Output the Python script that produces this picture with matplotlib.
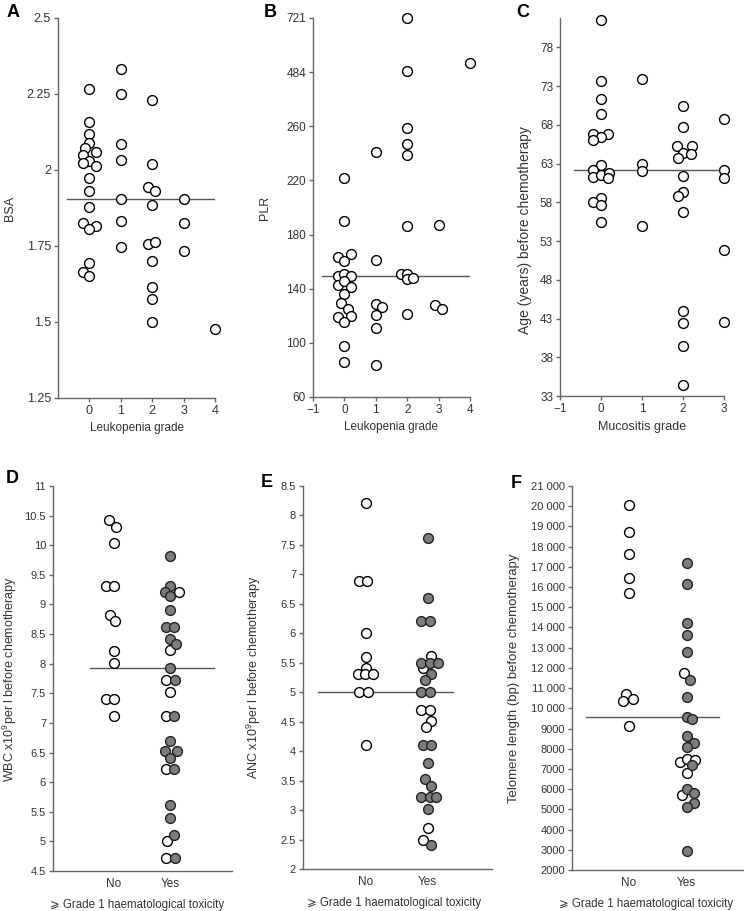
import numpy as np
import matplotlib
matplotlib.use("Agg")
import matplotlib.pyplot as plt
from matplotlib.ticker import FuncFormatter, FormatStrFormatter

plt.rcParams['font.family'] = ['Liberation Sans', 'DejaVu Sans']
plt.rcParams['mathtext.default'] = 'regular'

# ---- data ----
# A: BSA by leukopenia grade
a_grade = [0]*19 + [1]*7 + [2]*11 + [3]*3 + [4]
a_jit = [0, 0, 0, 0, -0.15, 0.2, -0.2, 0, -0.2, 0.2, 0, 0, 0, -0.2, 0.2, 0, 0, -0.2, 0,
         0, 0, 0, 0, 0, 0, 0,
         0, 0, -0.13, 0.1, 0, -0.13, 0.1, 0, 0, 0, 0,
         0, 0, 0,
         0]
a_bsa = [2.266, 2.157, 2.117, 2.09, 2.071, 2.06, 2.049, 2.031, 2.022, 2.013, 1.973, 1.93,
         1.879, 1.825, 1.817, 1.805, 1.695, 1.666, 1.652,
         2.333, 2.251, 2.086, 2.034, 1.905, 1.832, 1.748,
         2.231, 2.02, 1.943, 1.93, 1.885, 1.755, 1.762, 1.702, 1.616, 1.575, 1.499,
         1.905, 1.825, 1.735,
         1.478]
a_line = 1.905

# B: PLR by leukopenia grade
b_grade = [0]*19 + [1]*7 + [2]*11 + [3]*3 + [4]
b_jit = [0, 0, -0.2, 0.21, 0, -0.2, 0, 0.21, -0.2, 0, 0.21, 0, -0.1, 0.1, -0.2, 0.21, 0, 0, 0,
         0, 0, 0, 0.19, 0, 0, 0,
         0, 0, 0, 0, 0, 0, -0.21, 0, 0, 0.19, 0,
         0, -0.12, 0.1,
         0]
b_plr = [222, 190, 163.5, 166, 160.7, 149.4, 151, 149.4, 142.5, 145.4, 141.2, 136.3, 129.4,
         125.2, 119, 120.2, 115.3, 98, 86.2,
         241, 161, 128.9, 126.4, 120.7, 111, 84,
         721, 490, 259, 247, 239, 186, 151, 151, 147, 148, 121.5,
         187, 127.7, 124.7,
         522]
b_line = 149.4
b_ticks = [60, 100, 140, 180, 220, 260, 484, 721]

# C: age by mucositis grade
c_grade = [0]*18 + [1]*4 + [2]*15 + [3]*5
c_jit = [0, 0, 0, 0, -0.2, 0.18, 0, -0.2, 0, -0.2, -0.2, 0, 0.2, 0.18, 0, -0.2, 0, 0,
         0, 0, 0, 0,
         0, 0, -0.14, 0.21, 0, 0.2, -0.11, 0, 0, -0.11, 0, 0, 0, 0, 0,
         0, 0, 0, 0, 0]
c_age = [81.5, 73.7, 71.4, 69.4, 66.8, 66.8, 66.4, 66.0, 62.8, 62.2, 61.3, 61.5, 61.8, 61.1,
         58.6, 58.1, 57.7, 55.5,
         73.9, 63.0, 62.1, 54.9,
         70.4, 67.7, 65.3, 65.3, 64.4, 64.3, 63.7, 61.4, 59.3, 58.8, 56.7, 44.0, 42.4, 39.4, 34.4,
         68.7, 62.2, 61.1, 51.8, 42.6]
c_line = 62.2

# D: WBC by >= grade 1 haematological toxicity (1 = No, 2 = Yes)
d_group = [1]*12 + [2]*29
d_jit = [-0.09, 0.05, 0, -0.13, 0.01, -0.07, 0.03, 0, 0, -0.13, 0.01, 0,
         0, 0, -0.09, 0.15, 0, 0, -0.08, 0.07, 0, 0.1, -0.01, 0, -0.08, 0.08, 0,
         -0.08, 0.07, 0, -0.1, 0.12, 0, -0.08, 0.07, 0, 0, 0.07, -0.05, -0.08, 0.08]
d_wbc = [10.43, 10.31, 10.03, 9.31, 9.31, 8.83, 8.72, 8.21, 8.01, 7.41, 7.41, 7.11,
         9.81, 9.31, 9.21, 9.21, 9.14, 8.91, 8.62, 8.62, 8.42, 8.33, 8.23, 7.92, 7.72, 7.72, 7.52,
         7.11, 7.11, 6.70, 6.52, 6.52, 6.41, 6.22, 6.22, 5.61, 5.40, 5.10, 5.01, 4.72, 4.72]
d_filled = [0]*12 + [1, 1, 1, 0, 1, 1, 1, 1, 1, 1, 0, 1, 0, 1, 0,
                     0, 1, 1, 1, 1, 1, 0, 1, 1, 1, 1, 0, 0, 1]
d_line = 7.93

# E: ANC
e_group = [1]*12 + [2]*29
e_jit = [0, -0.12, 0.01, 0, 0, 0, -0.13, -0.02, 0.11, -0.12, 0.03, 0,
         0, 0, -0.11, 0.03, 0.05, -0.11, 0.03, 0.16, -0.08, 0.05, -0.05, -0.11, 0.03,
         -0.11, 0.03, 0.05, -0.03, -0.08, 0.05, 0, -0.05, 0.05, -0.11, 0.03, 0.14, 0, 0, -0.07, 0.05]
e_anc = [8.21, 6.89, 6.89, 6.01, 5.60, 5.41, 5.31, 5.31, 5.31, 5.0, 5.0, 4.11,
         7.61, 6.60, 6.21, 6.21, 5.62, 5.50, 5.50, 5.50, 5.41, 5.31, 5.21, 5.01, 5.01,
         4.70, 4.70, 4.51, 4.41, 4.11, 4.11, 3.80, 3.53, 3.41, 3.23, 3.23, 3.23, 3.01, 2.69, 2.50, 2.40]
e_filled = [0]*12 + [1, 1, 1, 1, 0, 1, 1, 1, 0, 1, 1, 1, 1,
                     0, 0, 0, 0, 1, 1, 1, 1, 1, 1, 1, 1, 1, 0, 0, 1]
e_line = 5.0

# F: telomere length
f_group = [1]*9 + [2]*24
f_jit = [0, 0, 0, 0, 0, -0.04, -0.1, 0.08, 0,
         0, 0, 0, 0, 0, -0.05, 0.06, 0, 0, 0.1, 0, 0.12, 0, -0.12, 0, 0.14, 0.1, 0,
         0, 0.12, -0.08, 0.12, 0, 0]
f_tl = [20050, 18715, 17660, 16425, 15685, 10710, 10380, 10480, 9143,
        17166, 16145, 14234, 13640, 12800, 11730, 11400, 10544, 9555, 9456, 8630, 8300, 8105,
        7350, 7480, 7450, 7200, 6787, 5997, 5832, 5717, 5338, 5140, 2916]
f_filled = [0]*9 + [1, 1, 1, 1, 1, 0, 1, 1, 1, 1, 1, 1, 1, 0, 0, 0, 1, 0, 1, 1, 0, 1, 1, 1]
f_line = 9588

group_labels = ['No', 'Yes']
tox_label = '\u2a7e Grade 1 haematological toxicity'

# ---- styling ----
W, H = 744, 911
INK = '#333333'
AXC = '#666666'
FILL = '#7d7d7d'
LINE = '#555555'


def make_ax(fig, left, right, top, bottom, tsize=8):
    ax = fig.add_axes([left / W, 1 - bottom / H, (right - left) / W, (bottom - top) / H])
    for s in ['top', 'right']:
        ax.spines[s].set_visible(False)
    for s in ['left', 'bottom']:
        ax.spines[s].set_color(AXC)
        ax.spines[s].set_linewidth(1.0)
    ax.tick_params(direction='out', length=3, width=1, color=AXC, labelcolor=INK,
                   labelsize=tsize, pad=2)
    return ax


def dots(ax, x, y, filled=None):
    x = np.asarray(x, float)
    y = np.asarray(y, float)
    if filled is None:
        filled = np.zeros(len(x), int)
    filled = np.asarray(filled, bool)
    ax.scatter(x[~filled], y[~filled], s=50, facecolor='white', edgecolor='black',
               linewidth=1.0, zorder=3, clip_on=False)
    ax.scatter(x[filled], y[filled], s=50, facecolor=FILL, edgecolor='#222222',
               linewidth=1.0, zorder=3, clip_on=False)


minus_fmt = FuncFormatter(lambda v, p: f'{v:.0f}'.replace('-', '\u2212'))

fig = plt.figure(figsize=(W / 100, H / 100), dpi=100)

# A
ax = make_ax(fig, 58, 215, 18, 398, tsize=9)
dots(ax, np.add(a_grade, a_jit), a_bsa)
ax.plot([-0.7, 4.2], [a_line, a_line], color=LINE, lw=1.0, zorder=2)
ax.set_xlim(-1, 4)
ax.set_ylim(1.25, 2.5)
ax.set_xticks(range(0, 5))
ax.set_yticks(np.arange(1.25, 2.51, 0.25))
ax.yaxis.set_major_formatter(FormatStrFormatter('%g'))
ax.set_xlabel('Leukopenia grade', fontsize=8.5, color=INK)
ax.set_ylabel('BSA', fontsize=9, color=INK)
ax.yaxis.set_label_coords(-0.27, 0.5)

# B (broken-style axis: 60-260 linear, then 484, 721)
seg_val = [60, 260, 484, 721]
seg_pos = [0, 5, 6, 7]
fwd = lambda v: np.interp(v, seg_val, seg_pos)
inv = lambda p: np.interp(p, seg_pos, seg_val)
ax = make_ax(fig, 313, 470, 18, 397, tsize=8.5)
ax.set_yscale('function', functions=(fwd, inv))
dots(ax, np.add(b_grade, b_jit), b_plr)
ax.plot([-0.7, 4.18], [b_line, b_line], color=LINE, lw=1.0, zorder=2)
ax.set_xlim(-1, 4)
ax.set_ylim(60, 721)
ax.set_xticks(range(-1, 5))
ax.set_yticks(b_ticks)
ax.set_yticklabels([str(t) for t in b_ticks])
ax.yaxis.set_minor_locator(plt.NullLocator())
ax.xaxis.set_major_formatter(minus_fmt)
ax.set_xlabel('Leukopenia grade', fontsize=8.5, color=INK)
ax.set_ylabel('PLR', fontsize=9, color=INK)
ax.yaxis.set_label_coords(-0.27, 0.5)

# C
ax = make_ax(fig, 560, 724, 18, 396, tsize=8.5)
dots(ax, np.add(c_grade, c_jit), c_age)
ax.plot([-0.67, 3.24], [c_line, c_line], color=LINE, lw=1.0, zorder=2)
ax.set_xlim(-1, 3)
ax.set_ylim(33, 81.8)
ax.set_xticks(range(-1, 4))
ax.set_yticks(range(33, 79, 5))
ax.xaxis.set_major_formatter(minus_fmt)
ax.set_xlabel('Mucositis grade', fontsize=9, color=INK)
ax.set_ylabel('Age (years) before chemotherapy', fontsize=10, color=INK)
ax.yaxis.set_label_coords(-0.17, 0.44)


def tox_panel(ax, grp, jit, vals, filled, line, lx, xlim, ylabel, ysize, lc, xc=0.5):
    dots(ax, np.add(grp, jit), vals, filled)
    ax.plot(lx, [line, line], color=LINE, lw=1.0, zorder=2)
    ax.set_xlim(*xlim)
    ax.set_xticks([1, 2])
    ax.set_xticklabels(group_labels)
    ax.tick_params(axis='x', length=0, pad=5, labelsize=8.5)
    ax.set_xlabel(tox_label, fontsize=8.3, color=INK)
    ax.xaxis.set_label_coords(xc, -0.072)
    ax.set_ylabel(ylabel, fontsize=ysize, color=INK)
    ax.yaxis.set_label_coords(lc, 0.5)


# D
ax = make_ax(fig, 53, 232, 486, 871)
ax.set_ylim(4.5, 11)
ax.set_yticks(np.arange(4.5, 11.01, 0.5))
ax.yaxis.set_major_formatter(FormatStrFormatter('%g'))
tox_panel(ax, d_group, d_jit, d_wbc, d_filled, d_line, [0.58, 2.78], (-0.07, 3.09),
          'WBC x10$^9$per l before chemotherapy', 9, -0.19, 0.47)

# E
ax = make_ax(fig, 303, 492, 486, 869)
ax.set_ylim(2, 8.5)
ax.set_yticks(np.arange(2, 8.51, 0.5))
ax.yaxis.set_major_formatter(FormatStrFormatter('%g'))
tox_panel(ax, e_group, e_jit, e_anc, e_filled, e_line, [0.22, 2.41], (-0.02, 3.04),
          'ANC x10$^9$per l before chemotherapy', 9, -0.21, 0.48)

# F
ax = make_ax(fig, 572, 744, 486, 870)
ax.set_ylim(2000, 21000)
ax.set_yticks(range(2000, 21001, 1000))
ax.yaxis.set_major_formatter(FuncFormatter(
    lambda v, p: f'{int(v):,}'.replace(',', ' ') if v >= 10000 else f'{int(v)}'))
tox_panel(ax, f_group, f_jit, f_tl, f_filled, f_line, [0.27, 2.56], (0.02, 2.99),
          'Telomere length (bp) before chemotherapy', 9.5, -0.3, 0.43)

# panel letters
for letter, x, y in [('A', 7, 4), ('B', 264, 4), ('C', 516, 4),
                     ('D', 6, 470), ('E', 261, 474), ('F', 511, 475)]:
    fig.text(x / W, 1 - y / H, letter, fontsize=13, fontweight='bold', color='black',
             ha='left', va='top')

fig.savefig('out.png', dpi=100)
